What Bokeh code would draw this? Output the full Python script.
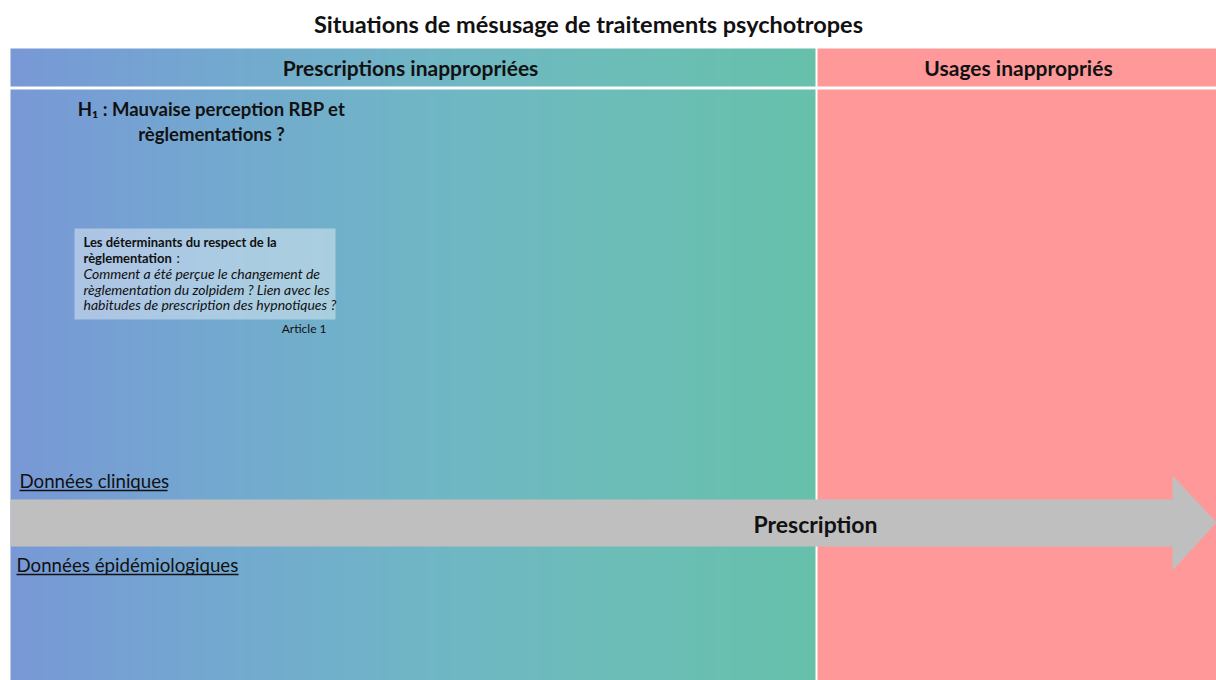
import numpy as np
from bokeh.plotting import figure
from bokeh.models import Range1d
from bokeh.core.properties import value
from bokeh.embed import file_html
from bokeh.resources import INLINE

FONT = "Lato"

# ---- texts (the "data" of this diagram) ----
title = "Situations de mésusage de traitements psychotropes"
columns = ["Prescriptions inappropriées", "Usages inappropriés"]
hypothesis = ["H\u2081 : Mauvaise perception RBP et", "règlementations ?"]
box_bold = ["Les déterminants du respect de la", "règlementation"]
box_italic = ["Comment a été perçue le changement de",
              "règlementation du zolpidem ? Lien avec les",
              "habitudes de prescription des hypnotiques ?"]
article = "Article 1"
axis_label = "Prescription"
data_labels = ["Données cliniques", "Données épidémiologiques"]

# ---- styling ----
grad_stops = [(0.0, (120, 152, 214)), (0.25, (115, 168, 208)), (0.5, (112, 181, 198)),
              (0.75, (108, 189, 184)), (1.0, (102, 192, 170))]
PINK = "#FF9999"
GREY = "#BFBFBF"
INK = "#111111"

p = figure(width=1216, height=680, output_backend="svg", toolbar_location=None,
           x_range=Range1d(0, 1216), y_range=Range1d(680, 0),
           x_axis_type=None, y_axis_type=None, min_border=0)
p.grid.visible = False
p.outline_line_color = None
p.background_fill_color = "white"
p.border_fill_color = "white"

# gradient area as an RGBA image (no seams)
gx0, gx1 = 10, 815
N = gx1 - gx0
t = np.linspace(0, 1, N)
pos = [s[0] for s in grad_stops]
img = np.empty((1, N), dtype=np.uint32)
view = img.view(dtype=np.uint8).reshape((1, N, 4))
for k in range(3):
    view[0, :, k] = np.round(np.interp(t, pos, [s[1][k] for s in grad_stops])).astype(np.uint8)
view[0, :, 3] = 255
for top, bot in [(48, 86), (89, 690)]:
    p.image_rgba(image=[img], x=gx0, y=top, dw=N, dh=bot - top)
    p.quad(left=[817], right=[1230], top=[top], bottom=[bot], fill_color=PINK, line_color=None)

# arrow
p.patch([10, 1172, 1172, 1216, 1172, 1172, 10],
        [499, 499, 475, 522, 570, 546, 546], fill_color=GREY, line_color=None)

# title and headers
p.text(x=[588], y=[23], text=[title], text_font=value(FONT), text_font_style="bold",
       text_font_size="23.5px", text_align="center", text_baseline="middle", text_color=INK)
p.text(x=[410, 1018], y=[67, 67], text=columns, text_font=value(FONT), text_font_style="bold",
       text_font_size="21px", text_align="center", text_baseline="middle", text_color=INK)

# hypothesis
p.text(x=[211, 211], y=[108, 133], text=hypothesis, text_font=value(FONT),
       text_font_style="bold", text_font_size="18.5px", text_align="center",
       text_baseline="middle", text_color=INK)

# box
p.quad(left=[74], right=[335], top=[228], bottom=[319], fill_color="white",
       fill_alpha=0.4, line_color=None)
p.text(x=[83, 83], y=[241, 257], text=box_bold, text_font=value(FONT), text_font_style="bold",
       text_font_size="13px", text_align="left", text_baseline="middle", text_color=INK)
p.text(x=[176], y=[257], text=[":"], text_font=value(FONT), text_font_size="13px",
       text_align="left", text_baseline="middle", text_color=INK)
p.text(x=[83, 83, 83], y=[273, 289, 304], text=box_italic, text_font=value(FONT),
       text_font_style="italic", text_font_size="14px", text_align="left",
       text_baseline="middle", text_color=INK)
p.text(x=[326], y=[328], text=[article], text_font=value(FONT), text_font_size="12px",
       text_align="right", text_baseline="middle", text_color=INK)

# arrow label
p.text(x=[815], y=[523], text=[axis_label], text_font=value(FONT), text_font_style="bold",
       text_font_size="23px", text_align="center", text_baseline="middle", text_color=INK)

# data labels with underline
p.text(x=[19, 16], y=[480, 564], text=data_labels, text_font=value(FONT),
       text_font_size="18.7px", text_align="left", text_baseline="middle", text_color=INK)
p.segment(x0=[19, 16], y0=[490, 574], x1=[167, 238], y1=[490, 574],
          line_color=INK, line_width=1.3)

open("out.html", "w").write(file_html(p, INLINE))
